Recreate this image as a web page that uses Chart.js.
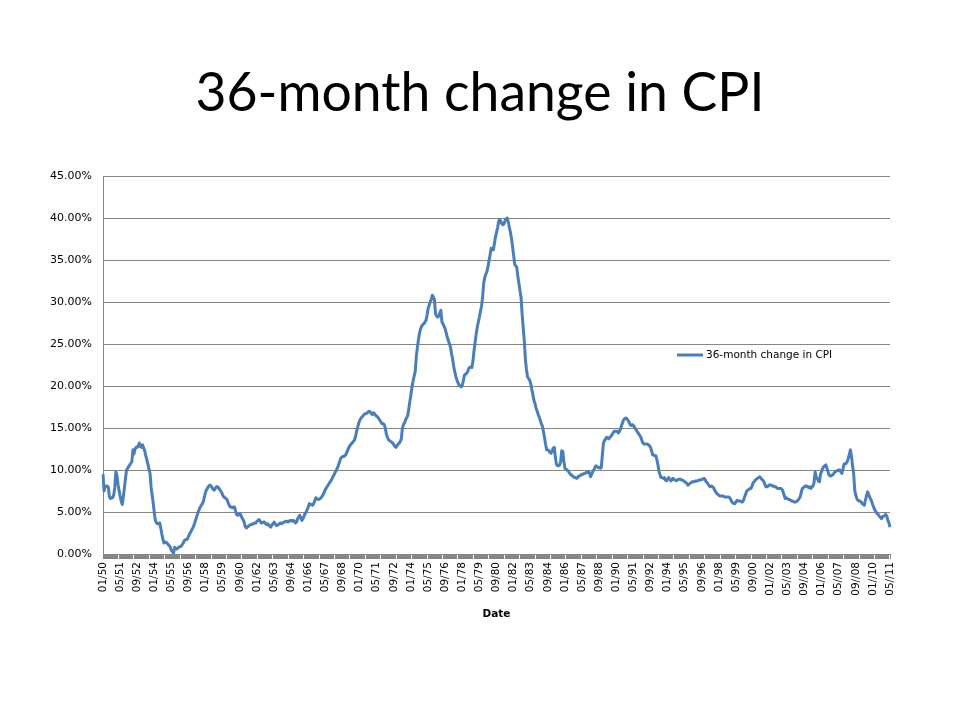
<!DOCTYPE html>
<html>
<head>
<meta charset="utf-8">
<script src="https://cdn.jsdelivr.net/npm/chart.js@4.4.0/dist/chart.umd.min.js"></script>
<style>
  html, body { margin: 0; padding: 0; background: #fff; }
  #wrap { position: relative; width: 960px; height: 720px; }
  #title {
    position: absolute; left: 0; top: 59px; width: 960px;
    text-align: center; font-family: "Lato", sans-serif; font-size: 53.5px;
    line-height: 62px; color: #000; margin: 0; font-weight: normal;
  }
  canvas { position: absolute; left: 0; top: 0; }
</style>
</head>
<body>
<div id="wrap">
  <canvas id="mychart" width="960" height="720"></canvas>
  <h1 id="title">36-month change in CPI</h1>
</div>
<script>
// ---- data (percent, one row per year, Jan..Dec) ----
var firstYear = 1950;
var seriesName = "36-month change in CPI";
var change36 = [
  9.5, 7.5, 8.0, 8.1, 8.1, 7.9, 6.8, 6.6, 6.7, 6.7, 7.0, 7.9,          // 1950
  9.8, 9.4, 8.3, 7.6, 6.9, 6.3, 5.9, 6.8, 7.8, 9.0, 10.0, 10.2,        // 1951
  10.4, 10.6, 10.8, 11.0, 12.4, 11.9, 12.5, 12.7, 12.7, 12.9, 13.2, 12.8,
  12.7, 13.0, 12.6, 12.3, 11.7, 11.2, 10.7, 10.1, 9.6, 7.9, 7.0, 6.0,
  4.9, 4.0, 3.7, 3.6, 3.6, 3.7, 3.1, 2.4, 1.8, 1.3, 1.4, 1.4,          // 1954
  1.3, 1.1, 1.0, 0.8, 0.4, 0.3, 0.1, 0.8, 0.7, 0.6, 0.7, 0.8,
  0.9, 0.9, 1.1, 1.3, 1.6, 1.7, 1.7, 1.8, 2.1, 2.4, 2.6, 2.9,
  3.1, 3.4, 3.8, 4.2, 4.6, 5.0, 5.3, 5.6, 5.8, 6.0, 6.3, 6.9,
  7.4, 7.7, 7.9, 8.1, 8.2, 8.1, 7.9, 7.7, 7.6, 7.8, 8.0, 8.0,          // 1958
  7.9, 7.7, 7.5, 7.3, 7.0, 6.8, 6.7, 6.6, 6.5, 6.1, 5.8, 5.6,
  5.6, 5.5, 5.6, 5.6, 5.1, 4.7, 4.6, 4.7, 4.8, 4.6, 4.3, 4.1,          // 1960
  3.8, 3.3, 3.1, 3.2, 3.3, 3.4, 3.5, 3.5, 3.6, 3.6, 3.7, 3.7,
  3.9, 4.0, 4.1, 3.9, 3.7, 3.7, 3.8, 3.8, 3.6, 3.5, 3.6, 3.4,
  3.3, 3.2, 3.5, 3.6, 3.8, 3.6, 3.4, 3.4, 3.5, 3.6, 3.7, 3.6,
  3.7, 3.8, 3.8, 3.9, 3.9, 3.8, 3.9, 4.0, 4.0, 3.9, 4.0, 3.9,          // 1964
  3.7, 3.8, 4.2, 4.4, 4.6, 4.3, 4.0, 4.2, 4.5, 4.8, 5.0, 5.3,
  5.6, 6.0, 5.9, 5.9, 5.8, 6.0, 6.3, 6.7, 6.6, 6.5, 6.5, 6.6,
  6.7, 6.9, 7.1, 7.4, 7.7, 7.9, 8.1, 8.3, 8.5, 8.7, 8.9, 9.2,
  9.4, 9.7, 9.9, 10.2, 10.5, 10.9, 11.3, 11.5, 11.6, 11.6, 11.7, 11.8, // 1968
  12.1, 12.4, 12.7, 12.9, 13.1, 13.2, 13.4, 13.5, 13.9, 14.5, 15.0, 15.5,
  15.9, 16.1, 16.3, 16.4, 16.6, 16.7, 16.7, 16.8, 16.9, 17.0, 16.9, 16.7, // 1970
  16.6, 16.8, 16.7, 16.5, 16.4, 16.3, 16.1, 15.9, 15.7, 15.5, 15.5, 15.4,
  15.0, 14.3, 13.9, 13.6, 13.5, 13.4, 13.3, 13.2, 13.0, 12.8, 12.7, 12.9,
  13.1, 13.2, 13.4, 13.7, 15.0, 15.4, 15.6, 16.0, 16.2, 16.5, 17.3, 18.2,
  19.0, 19.9, 20.6, 21.2, 21.7, 23.5, 24.6, 25.5, 26.3, 26.8, 27.1, 27.3, // 1974
  27.4, 27.6, 27.8, 28.4, 29.2, 29.6, 30.0, 30.3, 30.8, 30.6, 30.2, 28.6,
  28.3, 28.2, 28.3, 28.7, 29.0, 27.6, 27.4, 27.1, 26.8, 26.3, 25.8, 25.4,
  25.0, 24.6, 23.8, 23.2, 22.3, 21.7, 21.1, 20.7, 20.4, 20.1, 20.0, 19.9,
  20.1, 20.6, 21.3, 21.4, 21.5, 21.7, 22.1, 22.2, 22.3, 22.2, 23.0, 24.2, // 1978
  25.2, 26.2, 27.0, 27.6, 28.2, 28.9, 29.5, 30.6, 32.2, 32.9, 33.3, 33.6,
  34.2, 34.9, 35.6, 36.4, 36.3, 36.2, 36.9, 37.7, 38.3, 38.8, 39.6, 39.8, // 1980
  39.6, 39.3, 39.2, 39.3, 39.7, 39.9, 40.0, 39.5, 38.9, 38.3, 37.6, 36.6,
  35.6, 34.5, 34.3, 34.1, 33.0, 32.2, 31.3, 30.5, 28.5, 26.9, 25.4, 23.2,
  22.0, 21.1, 20.9, 20.7, 20.3, 19.6, 19.0, 18.3, 17.9, 17.4, 17.0, 16.6,
  16.3, 15.9, 15.5, 15.2, 14.5, 13.8, 13.0, 12.4, 12.4, 12.3, 12.1, 12.0, // 1984
  12.2, 12.6, 12.7, 11.6, 10.7, 10.5, 10.5, 10.6, 11.0, 12.3, 12.2, 11.0,
  10.2, 10.1, 10.0, 9.9, 9.7, 9.5, 9.4, 9.3, 9.2, 9.1, 9.1, 9.0,
  9.1, 9.3, 9.3, 9.4, 9.5, 9.5, 9.6, 9.6, 9.7, 9.7, 9.8, 9.6,
  9.2, 9.5, 9.8, 10.0, 10.3, 10.5, 10.4, 10.3, 10.3, 10.2, 10.3, 11.8,  // 1988
  13.2, 13.5, 13.7, 13.9, 13.8, 13.7, 13.9, 14.0, 14.2, 14.4, 14.6, 14.6,
  14.6, 14.6, 14.4, 14.6, 14.9, 15.3, 15.7, 16.0, 16.1, 16.2, 16.1, 15.9, // 1990
  15.7, 15.4, 15.3, 15.4, 15.3, 15.1, 14.9, 14.7, 14.5, 14.3, 14.1, 13.9,
  13.5, 13.2, 13.1, 13.1, 13.1, 13.1, 13.0, 12.9, 12.7, 12.3, 11.8, 11.8,
  11.7, 11.7, 11.2, 10.6, 9.8, 9.4, 9.1, 9.1, 9.0, 9.1, 8.8, 8.7,
  8.9, 9.1, 8.9, 8.7, 8.8, 9.0, 8.9, 8.8, 8.7, 8.8, 8.9, 8.9,          // 1994
  8.9, 8.8, 8.8, 8.7, 8.6, 8.5, 8.4, 8.2, 8.3, 8.4, 8.5, 8.6,
  8.6, 8.6, 8.7, 8.7, 8.7, 8.8, 8.8, 8.8, 8.9, 8.9, 9.0, 8.9,
  8.6, 8.5, 8.3, 8.1, 8.0, 8.1, 8.0, 7.9, 7.6, 7.4, 7.2, 7.1,
  7.0, 6.9, 6.9, 6.9, 6.9, 6.8, 6.8, 6.8, 6.8, 6.8, 6.7, 6.5,          // 1998
  6.2, 6.1, 6.0, 6.0, 6.2, 6.4, 6.3, 6.3, 6.3, 6.2, 6.2, 6.4,
  6.8, 7.1, 7.5, 7.6, 7.7, 7.8, 7.8, 8.1, 8.5, 8.6, 8.8, 8.9,          // 2000
  9.0, 9.1, 9.2, 9.1, 8.9, 8.8, 8.6, 8.3, 8.0, 8.0, 8.1, 8.2,
  8.2, 8.2, 8.1, 8.1, 8.0, 8.0, 7.9, 7.8, 7.8, 7.8, 7.8, 7.7,
  7.4, 7.0, 6.6, 6.7, 6.6, 6.5, 6.5, 6.4, 6.3, 6.3, 6.2, 6.2,
  6.2, 6.3, 6.4, 6.6, 6.8, 7.3, 7.8, 7.9, 8.0, 8.1, 8.1, 8.0,          // 2004
  7.9, 8.0, 7.8, 8.0, 8.1, 8.5, 9.8, 9.1, 9.0, 8.7, 8.6, 9.5,
  9.8, 10.2, 10.4, 10.5, 10.6, 10.2, 9.8, 9.4, 9.3, 9.3, 9.4, 9.5,
  9.7, 9.8, 9.9, 9.9, 10.0, 10.0, 9.8, 9.6, 10.1, 10.7, 10.7, 10.8,
  11.0, 11.4, 11.9, 12.4, 11.6, 10.5, 9.6, 7.6, 7.0, 6.6, 6.4, 6.3,    // 2008
  6.3, 6.2, 6.0, 5.9, 5.8, 6.4, 6.9, 7.4, 7.1, 6.8, 6.5, 6.2,
  5.8, 5.5, 5.2, 5.0, 4.8, 4.7, 4.5, 4.4, 4.2, 4.4, 4.5, 4.6,          // 2010
  4.7, 4.5, 4.0, 3.7, 3.2                                              // 2011 (to May)
];
var yTicks = [0, 5, 10, 15, 20, 25, 30, 35, 40, 45];
var labelEvery = 16; // one tick label every 16 months

// month labels "MM/YY" (the source switched to "MM//YY" after 2000)
var monthLabels = [];
for (var i = 0; i < change36.length; i++) {
  var yr = firstYear + Math.floor(i / 12);
  var mo = (i % 12) + 1;
  var sep = yr > 2000 ? "//" : "/";
  monthLabels.push((mo < 10 ? "0" : "") + mo + sep + String(yr).slice(2));
}

var lineColor = "#4a7ebb";
var gridColor = "#868686";
var smallFont = { family: "DejaVu Sans", size: 11 };

// legend floats over the plot like in excel
var floatingLegend = {
  id: "floatingLegend",
  afterDraw: function(chart) {
    var ctx = chart.ctx;
    var ds = chart.data.datasets[0];
    ctx.save();
    ctx.strokeStyle = ds.borderColor;
    ctx.lineWidth = 3;
    ctx.beginPath();
    ctx.moveTo(677, 355);
    ctx.lineTo(703, 355);
    ctx.stroke();
    ctx.fillStyle = "#000";
    ctx.font = "10.5px " + smallFont.family;
    ctx.textBaseline = "middle";
    ctx.fillText(ds.label, 706, 355);
    ctx.restore();
  }
};

var context = document.getElementById("mychart").getContext("2d");
var chart = new Chart(context, {
  type: "line",
  data: {
    labels: monthLabels,
    datasets: [{
      label: seriesName,
      data: change36,
      borderColor: lineColor,
      backgroundColor: lineColor,
      borderWidth: 3,
      pointRadius: 0,
      tension: 0,
      borderJoinStyle: "round"
    }]
  },
  options: {
    responsive: false,
    animation: false,
    layout: { padding: { left: 0, right: 70, top: 176, bottom: 95 } },
    plugins: {
      legend: { display: false },
      tooltip: { enabled: false }
    },
    scales: {
      x: {
        offset: false,
        grid: { drawOnChartArea: false, drawTicks: true, tickLength: 5, color: gridColor },
        border: { color: gridColor },
        ticks: {
          autoSkip: false,
          maxRotation: 90,
          minRotation: 90,
          padding: 3,
          color: "#000",
          font: { family: "DejaVu Sans", size: 10.5 },
          callback: function(val, idx) {
            return idx % labelEvery === 0 ? monthLabels[idx] : "";
          }
        },
        title: {
          display: true,
          text: "Date",
          color: "#000",
          font: { family: "DejaVu Sans", size: 10.5, weight: "bold" },
          padding: { top: 4, bottom: 4 }
        },
        afterFit: function(scale) { scale.height = 71; }
      },
      y: {
        min: 0,
        max: 45,
        afterBuildTicks: function(scale) {
          scale.ticks = yTicks.map(function(v) { return { value: v }; });
        },
        grid: { color: gridColor, drawTicks: false },
        border: { color: gridColor },
        ticks: {
          padding: 11,
          color: "#000",
          font: smallFont,
          callback: function(v) { return v.toFixed(2) + "%"; }
        },
        afterFit: function(scale) { scale.width = 103; }
      }
    }
  },
  plugins: [floatingLegend]
});
</script>
</body>
</html>
